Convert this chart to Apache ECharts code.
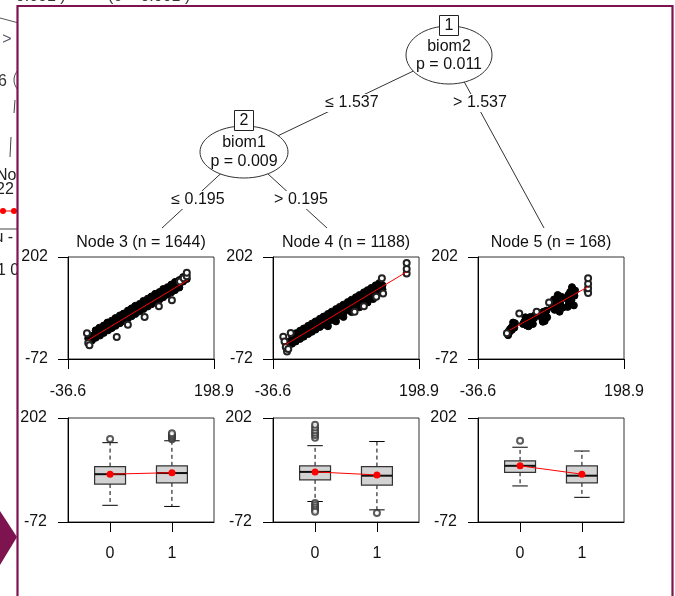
<!DOCTYPE html>
<html><head><meta charset="utf-8">
<script src="https://cdn.jsdelivr.net/npm/echarts@6/dist/echarts.min.js"></script>
<style>html,body{margin:0;padding:0;background:#fff}#c{width:675px;height:596px}</style>
</head><body><div id="c"></div>
<script>
const FONT = "'Liberation Sans', Arial, sans-serif";

// ---- axis ranges & tick labels ----
const xRange = [-36.6, 198.9];
const yRange = [-72, 202];
const groupRange = [-0.68, 1.68];
const groupTicks = [0, 1];
const nodeTitles = ['Node 3 (n = 1644)', 'Node 4 (n = 1188)', 'Node 5 (n = 168)'];

// ---- tree ----
const innerNodes = [
  {id: '1', varName: 'biom2', p: 'p = 0.011'},
  {id: '2', varName: 'biom1', p: 'p = 0.009'}
];
const edgeLabels = ['\u2264 1.537', '> 1.537', '\u2264 0.195', '> 0.195'];

// ---- scatter clouds (x, y) ----
const node3Dense = [
  [8,5],[14,12],[21,18],[27,26],[34,31],[40,38],[47,45],[53,50],[60,58],[66,64],[72,71],[79,76],[85,84],[92,90],[98,96],[104,103],[111,108],[117,116],[124,121],[130,128],[136,135],[143,140],[149,148],
  [-4,-17],[2,-10],[8,-5],[15,2],[21,8],[28,16],[34,21],[40,28],[47,34],[53,41],[60,47],[66,53],[72,60],[79,66],[85,73],[92,79],[98,86],[104,91],[111,99],[117,104],[124,111],[130,118],[136,123],[143,131],[149,136],[155,143],
  [2,-22],[8,-15],[15,-9],[21,-2],[28,5],[34,11],[40,17],[47,24],[53,30],[60,37],[66,43],[72,49],[79,56],[85,62],[92,69],[98,75],[104,81],[111,88],[117,94],[124,101],[130,107],[136,113],[143,120]
];
const node3Open = [[-4,-29],[-6,-3],[-2,-35],[42,-13],[60,20],[87,41],[110,70],[131,86],[144,136],[150,145],[155,150],[155,160]];
const node3Fit = [[-4,-21],[157,140]];

const node4Dense = [
  [-6,-9],[0,-3],[7,4],[13,10],[20,17],[26,23],[32,29],[39,36],[45,42],[52,49],[58,55],[65,62],[71,68],[77,74],[84,81],[90,87],[97,94],[103,100],[110,107],[116,113],[122,119],[129,126],[135,132],
  [-12,-26],[-6,-20],[0,-14],[7,-7],[13,-1],[20,6],[26,12],[32,18],[39,25],[45,31],[52,38],[58,44],[65,51],[71,57],[77,63],[84,70],[90,76],[97,83],[103,89],[110,96],[116,102],[122,108],[129,115],[135,121],[140,126],
  [-6,-31],[0,-25],[7,-18],[13,-12],[20,-5],[26,1],[32,7],[39,14],[45,20],[52,27],[58,33],[65,40],[71,46],[77,52],[84,59],[90,65],[97,72],[103,78],[110,85],[116,91],[122,97],[129,104],[135,110],[140,115],
  [52,16],[65,29],[77,41],[90,54],[103,67],[116,80],[125,89]
];
const node4Open = [[-20,-12],[-18,-25],[-16,-40],[-14,-52],[-12,-45],[-8,-2],[95,55],[110,70],[130,95],[141,104],[139,145],[179,158],[179,170],[179,186]];
const node4Fit = [[-17,-34],[179,162]];

const node5Dense = [
  [11,-3],[13,3],[15,8],[17,12],[19,15],[21,20],[23,24],[14,0],[18,6],[22,12],[20,26],[12,-8],
  [36,22],[38,28],[40,33],[42,18],[44,26],[46,36],[48,41],[50,30],[52,22],[54,38],[55,45],[45,16],[40,40],
  [63,44],[65,50],[67,36],[69,55],[71,30],[72,47],[74,58],[75,40],[68,28],
  [83,68],[85,75],[87,60],[89,82],[91,70],[93,90],[95,55],[96,78],[98,95],[100,66],[92,100],[86,88],[94,62],
  [107,90],[109,100],[110,78],[112,108],[114,85],[116,116],[118,72],[119,98],[120,112],[115,121],[108,68]
];
const node5Open = [[10,-3],[30,50],[58,55],[78,80],[140,112],[141,105],[141,118],[141,130],[141,145]];
const node5Fit = [[15,6],[141,122]];

// ---- boxplots: [group, lowWhisker, Q1, median, Q3, highWhisker] ----
const node3Box = [[0,-28,28,54,74,137],[1,-31,31,57,76,142]];
const node3Means = [[0,54],[1,58]];
const node3Out = [[0,147],[1,146],[1,150],[1,154],[1,158],[1,162]];
const node4Box = [[0,-18,39,60,76,129],[1,-40,25,50,74,140]];
const node4Means = [[0,60],[1,52]];
const node4Out = [[0,150],[0,157],[0,163],[0,170],[0,177],[0,184],[0,-22],[0,-28],[0,-34],[0,-40],[0,-45],[1,-48]];
const node5Box = [[0,23,59,76,89,125],[1,-7,31,50,76,115]];
const node5Means = [[0,76],[1,54]];
const node5Out = [[0,142]];

const dense = [node3Dense, node4Dense, node5Dense];
const open = [node3Open, node4Open, node5Open];
const fits = [node3Fit, node4Fit, node5Fit];
const boxes = [node3Box, node4Box, node5Box];
const means = [node3Means, node4Means, node5Means];
const outs = [node3Out, node4Out, node5Out];

// ---- layout ----
const gridLefts = [68, 273, 478];
const gridW = 146;
const scTop = 257, scH = 102, bxTop = 418, bxH = 104;
const ZC = 20; // chart layer above the frame graphics

const grids = [], xAxes = [], yAxes = [], series = [];
function axis(gi, pos, min, max, vals, margin) {
  return {
    type: 'value', gridIndex: gi, position: pos, min: min, max: max, scale: false, z: ZC + 2,
    axisLine: {show: true, onZero: false, lineStyle: {color: '#000', width: 1}},
    axisTick: {show: true, inside: false, length: 10, customValues: vals, lineStyle: {color: '#000', width: 1}},
    axisLabel: {show: true, customValues: vals, margin: margin, color: '#111', fontSize: 16, fontFamily: FONT,
      showMinLabel: true, showMaxLabel: true, hideOverlap: false, formatter: function (v) { return String(v); }},
    splitLine: {show: false}, splitArea: {show: false}
  };
}
for (let i = 0; i < 3; i++) {
  grids.push({z: ZC, left: gridLefts[i], top: scTop, width: gridW, height: scH, show: true, borderColor: '#333', borderWidth: 1, backgroundColor: 'transparent'});
}
for (let i = 0; i < 3; i++) {
  grids.push({z: ZC, left: gridLefts[i], top: bxTop, width: gridW, height: bxH, show: true, borderColor: '#333', borderWidth: 1, backgroundColor: 'transparent'});
}
for (let i = 0; i < 3; i++) {
  xAxes.push(axis(i, 'bottom', xRange[0], xRange[1], xRange, 25));
  yAxes.push(axis(i, 'left', yRange[0], yRange[1], yRange, 20));
}
for (let i = 0; i < 3; i++) {
  xAxes.push(axis(3 + i, 'bottom', groupRange[0], groupRange[1], groupTicks, 24));
  yAxes.push(axis(3 + i, 'left', yRange[0], yRange[1], yRange, 21));
}

function renderBox(params, api) {
  const x = api.value(0);
  const lo = api.coord([x, api.value(1)]);
  const q1 = api.coord([x, api.value(2)]);
  const md = api.coord([x, api.value(3)]);
  const q3 = api.coord([x, api.value(4)]);
  const hi = api.coord([x, api.value(5)]);
  const w = api.size([0.5, 0])[0];
  const hw = w / 2, sw = w / 4, cx = lo[0];
  const dash = {stroke: '#000', lineWidth: 1, lineDash: [4, 3], fill: null};
  const solid = {stroke: '#000', lineWidth: 1, fill: null};
  return {type: 'group', children: [
    {type: 'line', shape: {x1: cx, y1: q1[1], x2: cx, y2: lo[1]}, style: dash},
    {type: 'line', shape: {x1: cx, y1: q3[1], x2: cx, y2: hi[1]}, style: dash},
    {type: 'line', shape: {x1: cx - sw, y1: lo[1], x2: cx + sw, y2: lo[1]}, style: solid},
    {type: 'line', shape: {x1: cx - sw, y1: hi[1], x2: cx + sw, y2: hi[1]}, style: solid},
    {type: 'rect', shape: {x: cx - hw, y: q3[1], width: w, height: q1[1] - q3[1]}, style: {fill: '#d3d3d3', stroke: '#333', lineWidth: 1.2}},
    {type: 'line', shape: {x1: cx - hw, y1: md[1], x2: cx + hw, y2: md[1]}, style: {stroke: '#111', lineWidth: 2}}
  ]};
}

for (let i = 0; i < 3; i++) {
  series.push({type: 'scatter', xAxisIndex: i, yAxisIndex: i, data: dense[i], symbol: 'circle', symbolSize: 7,
    itemStyle: {color: '#000', borderColor: '#000', borderWidth: 1, opacity: 1}, silent: true, animation: false, z: ZC + 3});
  series.push({type: 'scatter', xAxisIndex: i, yAxisIndex: i, data: open[i], symbol: 'emptyCircle', symbolSize: 6,
    itemStyle: {color: '#222', borderColor: '#222', borderWidth: 1, opacity: 1}, silent: true, animation: false, z: ZC + 3});
  series.push({type: 'line', xAxisIndex: i, yAxisIndex: i, data: fits[i], showSymbol: false, symbol: 'none',
    lineStyle: {color: '#ff0000', width: 1}, silent: true, animation: false, z: ZC + 5});
  series.push({type: 'custom', xAxisIndex: 3 + i, yAxisIndex: 3 + i, data: boxes[i], encode: {x: 0, y: [1, 2, 3, 4, 5]},
    renderItem: renderBox, silent: true, animation: false, z: ZC + 3});
  series.push({type: 'scatter', xAxisIndex: 3 + i, yAxisIndex: 3 + i, data: outs[i], symbol: 'emptyCircle', symbolSize: 6,
    itemStyle: {color: '#333', borderColor: '#333', borderWidth: 1}, silent: true, animation: false, z: ZC + 4});
  series.push({type: 'line', xAxisIndex: 3 + i, yAxisIndex: 3 + i, data: means[i], symbol: 'circle', symbolSize: 7, showSymbol: true,
    itemStyle: {color: '#ff0000', borderWidth: 0}, lineStyle: {color: '#ff0000', width: 1}, silent: true, animation: false, z: ZC + 6});
}

// ---- graphic: frame, background fragments, tree ----
const MAROON = '#7d1450';
const EDGE = '#333';
function txt(x, y, s, opts) {
  opts = opts || {};
  return {type: 'text', x: x, y: y, z: opts.z || 10, silent: true,
    style: {text: s, fontSize: opts.size || 16, fontFamily: FONT, fill: opts.color || '#111',
      align: opts.align || 'center', verticalAlign: opts.va || 'middle',
      backgroundColor: opts.bg || null, padding: opts.pad || 0}};
}
function seg(x1, y1, x2, y2, z, color, dash) {
  return {type: 'line', z: z, silent: true, shape: {x1: x1, y1: y1, x2: x2, y2: y2},
    style: {stroke: color || EDGE, lineWidth: 1, lineDash: dash || null}};
}
const graphics = [
  // fragments of the chart behind (outside the frame)
  txt(2, -3, '< 0.001 )', {align: 'left', z: 1, color: '#333'}),
  txt(108, -3, '(6 < 0.001 )', {align: 'left', z: 1, color: '#333'}),
  seg(0, 18, 30, 26, 1, '#555'),
  txt(7, 40, '>', {z: 1, color: '#556'}),
  txt(-2, 82, '6', {align: 'left', z: 1, color: '#333'}),
  {type: 'ellipse', z: 1, silent: true, shape: {cx: 42, cy: 80, rx: 28, ry: 19}, style: {fill: null, stroke: '#444', lineWidth: 1}},
  seg(15, 100, 14, 113, 1, '#444'),
  seg(11, 137, 10, 157, 1, '#444'),
  txt(-4, 176, 'Nod', {align: 'left', z: 1, color: '#222'}),
  txt(-4, 190, '22', {align: 'left', z: 1, color: '#222'}),
  seg(0, 211, 17, 211, 1, '#ff0000'),
  {type: 'circle', z: 1, silent: true, shape: {cx: 3, cy: 211, r: 3}, style: {fill: '#ff0000'}},
  {type: 'circle', z: 1, silent: true, shape: {cx: 14, cy: 211, r: 3}, style: {fill: '#ff0000'}},
  txt(-2, 238, '\u0279 -', {align: 'left', z: 1, color: '#222'}),
  seg(0, 229, 17, 229, 1, '#444'),
  txt(-3, 271, '1 0', {align: 'left', z: 1, color: '#222'}),
  // frame
  {type: 'rect', z: 3, silent: true, shape: {x: 17.5, y: 6, width: 655, height: 620},
    style: {fill: '#ffffff', stroke: MAROON, lineWidth: 2.2}},
  {type: 'polygon', z: 4, silent: true, shape: {points: [[0, 511], [17, 537], [0, 565]]}, style: {fill: MAROON}},
  // tree edges
  seg(449, 54, 244, 152, 5),
  seg(449, 54, 544, 228, 5),
  seg(244, 152, 162, 228, 5),
  seg(244, 152, 327, 228, 5),
  // nodes
  {type: 'ellipse', z: 6, silent: true, shape: {cx: 449, cy: 55, rx: 43, ry: 29}, style: {fill: '#fff', stroke: EDGE, lineWidth: 1}},
  {type: 'ellipse', z: 6, silent: true, shape: {cx: 244, cy: 152, rx: 44, ry: 26}, style: {fill: '#fff', stroke: EDGE, lineWidth: 1}},
  {type: 'rect', z: 7, silent: true, shape: {x: 439.5, y: 15.5, width: 19, height: 20}, style: {fill: '#fff', stroke: '#222', lineWidth: 1}},
  {type: 'rect', z: 7, silent: true, shape: {x: 234.5, y: 110.5, width: 19, height: 20}, style: {fill: '#fff', stroke: '#222', lineWidth: 1}},
  txt(449, 26, innerNodes[0].id, {z: 8}),
  txt(449, 47, innerNodes[0].varName, {z: 8}),
  txt(449, 65, innerNodes[0].p, {z: 8}),
  txt(244, 121, innerNodes[1].id, {z: 8}),
  txt(244, 143, innerNodes[1].varName, {z: 8}),
  txt(244, 162, innerNodes[1].p, {z: 8}),
  // edge labels
  txt(352, 103, edgeLabels[0], {z: 8, bg: '#fff', pad: [1, 3]}),
  txt(480, 103, edgeLabels[1], {z: 8, bg: '#fff', pad: [1, 3]}),
  txt(198, 200, edgeLabels[2], {z: 8, bg: '#fff', pad: [1, 3]}),
  txt(301, 200, edgeLabels[3], {z: 8, bg: '#fff', pad: [1, 3]}),
  // terminal node titles
  txt(gridLefts[0] + gridW / 2, 243, nodeTitles[0], {z: 8}),
  txt(gridLefts[1] + gridW / 2, 243, nodeTitles[1], {z: 8}),
  txt(gridLefts[2] + gridW / 2, 243, nodeTitles[2], {z: 8})
];

const chart = echarts.init(document.getElementById('c'), null, {renderer: 'canvas'});
chart.setOption({
  animation: false,
  backgroundColor: '#fff',
  textStyle: {fontFamily: FONT},
  graphic: {elements: graphics},
  grid: grids, xAxis: xAxes, yAxis: yAxes, series: series,
  tooltip: {show: false}, legend: {show: false}
});
</script></body></html>
